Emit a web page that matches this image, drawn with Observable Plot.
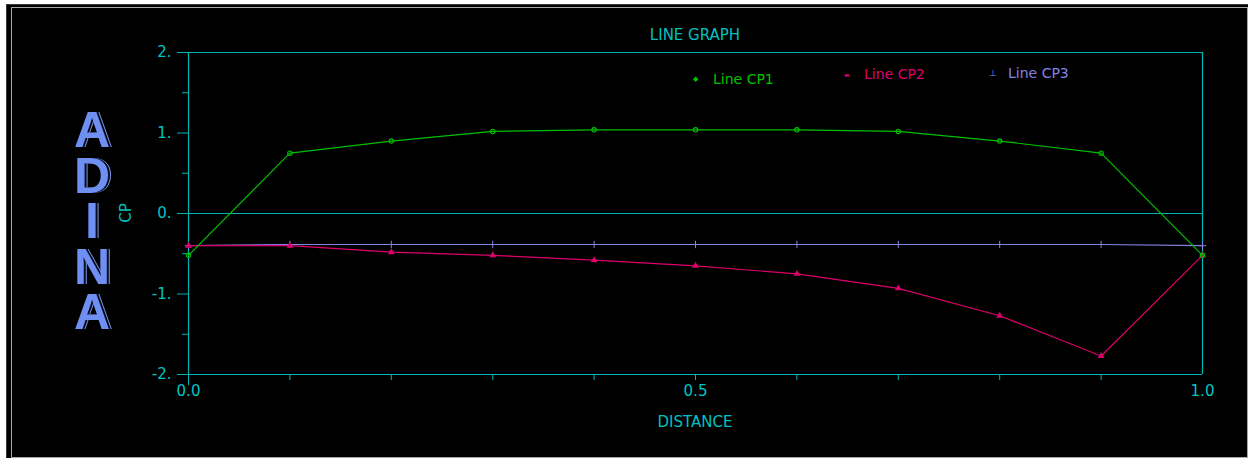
<!DOCTYPE html>
<html>
<head>
<meta charset="utf-8">
<script src="https://cdn.jsdelivr.net/npm/d3@7"></script>
<script src="https://cdn.jsdelivr.net/npm/@observablehq/plot@0.6"></script>
<style>
  html, body { margin: 0; padding: 0; background: #ffffff; }
  #stage { position: relative; width: 1248px; height: 458px; overflow: hidden; background: #ffffff; }
  #black { position: absolute; left: 6px; top: 4px; width: 1242px; height: 454px; background: #000; border-top: 1px solid #3a3a3a; border-left: 1px solid #3a3a3a; box-sizing: border-box; }
  #frame { position: absolute; left: 11px; top: 7px; width: 1237px; height: 451px; border: 1px solid #a8a8a8; box-sizing: border-box; }
  #chart { position: absolute; left: 6px; top: 4px; }
  .lbl { position: absolute; font-family: "DejaVu Sans", sans-serif; font-weight: normal; white-space: nowrap; transform: translate(-50%, -50%); }
  .cyan { color: #00c0c0; }
  #adina { position: absolute; left: 72px; top: 108px; width: 40px; text-align: center; white-space: pre-line;
           font-family: "Liberation Sans", Arial, sans-serif; font-weight: bold; font-size: 50px; line-height: 45.5px;
           color: #6f90f2; text-shadow: 1px 0 0 #0a1430, 2px 0 0 #000, 3px 0 0 #7d9af2; }
  .leg { position: absolute; font-family: "DejaVu Sans", sans-serif; font-weight: normal; font-size: 14px; white-space: nowrap; transform: translateY(-50%); }
</style>
</head>
<body>
<div id="stage">
  <div id="black"></div>
  <div id="frame"></div>
  <div id="adina"></div>
  <div id="chart"></div>
  <div id="title" class="lbl cyan" style="left:695px; top:35px; font-size:15px;"></div>
  <div id="xlabel" class="lbl cyan" style="left:695px; top:422px; font-size:15px;"></div>
  <div id="ylabel" class="lbl cyan" style="left:126px; top:213px; font-size:15px; transform: translate(-50%, -50%) rotate(-90deg);"></div>
  <div id="legend"></div>
</div>
<script>
// ---- data ----
const titleText = "LINE GRAPH";
const xLabel = "DISTANCE";
const yLabel = "CP";
const brand = ["A", "D", "I", "N", "A"];
const seriesNames = ["Line CP1", "Line CP2", "Line CP3"];
const seriesColors = ["#00c000", "#dc006a", "#8484e4"];
const distance = [0.0, 0.1, 0.2, 0.3, 0.4, 0.5, 0.6, 0.7, 0.8, 0.9, 1.0];
const cp1 = [-0.52, 0.75, 0.90, 1.02, 1.04, 1.04, 1.04, 1.02, 0.90, 0.75, -0.52];
const cp2 = [-0.40, -0.40, -0.48, -0.52, -0.58, -0.65, -0.75, -0.93, -1.27, -1.77, -0.52];
const cp3 = [-0.40, -0.385, -0.385, -0.385, -0.385, -0.385, -0.385, -0.385, -0.385, -0.385, -0.40];
const yMajorTicks = [-2, -1, 0, 1, 2];
const yMinorTicks = [-1.5, -0.5, 0.5, 1.5];
const xMinorTicks = [0.1, 0.2, 0.3, 0.4, 0.5, 0.6, 0.7, 0.8, 0.9];
const xLabelTicks = [0.0, 0.5, 1.0];
const frameRules = [-2, 0, 2];

const axisColor = "#00b4b4";
const axisText = "#00c4c4";

const toRows = vals => distance.map((d, i) => ({distance: d, cp: vals[i]}));
const d1 = toRows(cp1), d2 = toRows(cp2), d3rows = toRows(cp3);

const yFmt = d => (d < 0 ? "-" : "") + Math.abs(d) + ".";

const chart = Plot.plot({
  width: 1242,
  height: 454,
  marginLeft: 182,
  marginRight: 46,
  marginTop: 48,
  marginBottom: 84,
  style: {background: "transparent", fontFamily: "DejaVu Sans, sans-serif", fontSize: "15px", overflow: "visible"},
  x: {domain: [0, 1], label: null},
  y: {domain: [-2, 2], label: null},
  marks: [
    Plot.ruleY(frameRules, {stroke: axisColor, strokeWidth: 1.2}),
    Plot.ruleX([0, 1], {stroke: axisColor, strokeWidth: 1.2}),
    Plot.axisY({ticks: yMajorTicks, tickSize: 11, tickPadding: 6, tickFormat: yFmt, stroke: axisColor, fill: axisText, label: null}),
    Plot.axisY({ticks: yMinorTicks, tickSize: 6, tickFormat: () => "", stroke: axisColor, label: null}),
    Plot.axisX({ticks: xMinorTicks, tickSize: 6, tickFormat: () => "", stroke: axisColor, label: null}),
    Plot.axisX({ticks: [0], tickSize: 11, tickFormat: () => "", stroke: axisColor, label: null}),
    Plot.axisX({ticks: xLabelTicks, tickSize: 0, tickPadding: 11, tickFormat: d3.format(".1f"), fill: axisText, label: null}),
    Plot.line(d3rows, {x: "distance", y: "cp", stroke: seriesColors[2], strokeWidth: 1.2}),
    Plot.dot(d3rows, {x: "distance", y: "cp", symbol: "plus", r: 2.5, stroke: seriesColors[2], strokeWidth: 1}),
    Plot.line(d2, {x: "distance", y: "cp", stroke: seriesColors[1], strokeWidth: 1.2}),
    Plot.dot(d2, {x: "distance", y: "cp", symbol: "triangle", r: 1.6, fill: seriesColors[1], stroke: seriesColors[1]}),
    Plot.line(d1, {x: "distance", y: "cp", stroke: seriesColors[0], strokeWidth: 1.2}),
    Plot.dot(d1, {x: "distance", y: "cp", symbol: "circle", r: 2.2, stroke: seriesColors[0], fill: "none", strokeWidth: 1.1})
  ]
});
document.getElementById("chart").appendChild(chart);

document.getElementById("title").textContent = titleText;
document.getElementById("xlabel").textContent = xLabel;
document.getElementById("ylabel").textContent = yLabel;
document.getElementById("adina").textContent = brand.join("\n");

// legend (layout positions only)
const legendPos = [{mx: 697, my: 79, tx: 713, sym: "\u25C6", fs: 7},
                   {mx: 848, my: 74, tx: 864, sym: "\u25AC", fs: 6},
                   {mx: 993, my: 73, tx: 1008, sym: "\u22A5", fs: 9}];
const leg = document.getElementById("legend");
seriesNames.forEach((name, i) => {
  const p = legendPos[i];
  const m = document.createElement("div");
  m.className = "leg";
  m.style.left = (p.mx - 4) + "px"; m.style.top = p.my + "px";
  m.style.fontSize = p.fs + "px"; m.style.color = seriesColors[i];
  m.textContent = p.sym;
  leg.appendChild(m);
  const t = document.createElement("div");
  t.className = "leg";
  t.style.left = p.tx + "px"; t.style.top = p.my + "px";
  t.style.color = seriesColors[i];
  t.textContent = name;
  leg.appendChild(t);
});
</script>
</body>
</html>
